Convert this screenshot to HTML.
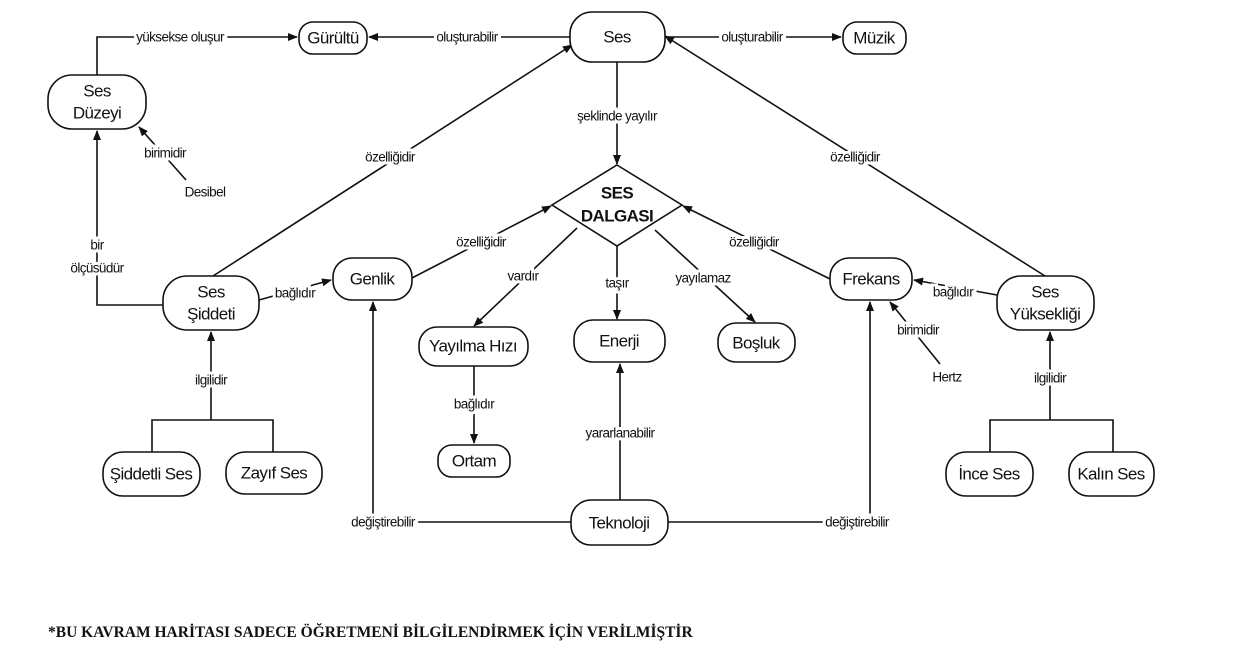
<!DOCTYPE html>
<html><head><meta charset="utf-8"><style>
html,body{margin:0;padding:0;background:#fff;width:1248px;height:655px;overflow:hidden}
svg{display:block}
.n{fill:#fff;stroke:#111;stroke-width:1.6}
.l{stroke:#111;stroke-width:1.6;fill:none}
.t{font-family:"Liberation Sans",sans-serif;font-size:17px;fill:#111;text-anchor:middle;dominant-baseline:central;letter-spacing:-0.6px}
.s{font-family:"Liberation Sans",sans-serif;font-size:13.5px;fill:#111;text-anchor:middle;dominant-baseline:central;letter-spacing:-0.6px;stroke:#fff;stroke-width:6px;paint-order:stroke}
</style></head><body>
<svg width="1248" height="655" viewBox="0 0 1248 655" xmlns="http://www.w3.org/2000/svg">
<defs><marker id="a" markerWidth="10" markerHeight="10" refX="9" refY="5" orient="auto" markerUnits="userSpaceOnUse"><path d="M0,1 L10,5 L0,9 z" fill="#111"/></marker></defs>
<polyline class="l" points="97,75 97,37 297,37" marker-end="url(#a)"/>
<line class="l" x1="570" y1="37" x2="369" y2="37" marker-end="url(#a)"/>
<line class="l" x1="665" y1="37" x2="841" y2="37" marker-end="url(#a)"/>
<line class="l" x1="617" y1="62" x2="617" y2="164" marker-end="url(#a)"/>
<line class="l" x1="213" y1="276" x2="572" y2="45" marker-end="url(#a)"/>
<line class="l" x1="1045" y1="276" x2="665" y2="36" marker-end="url(#a)"/>
<polyline class="l" points="163,305 97,305 97,131" marker-end="url(#a)"/>
<line class="l" x1="259" y1="300" x2="331" y2="280" marker-end="url(#a)"/>
<line class="l" x1="412" y1="278" x2="551" y2="206" marker-end="url(#a)"/>
<line class="l" x1="577" y1="228" x2="474" y2="326" marker-end="url(#a)"/>
<line class="l" x1="617" y1="246" x2="617" y2="319" marker-end="url(#a)"/>
<line class="l" x1="655" y1="230" x2="755" y2="322" marker-end="url(#a)"/>
<line class="l" x1="830" y1="279" x2="683" y2="206" marker-end="url(#a)"/>
<line class="l" x1="997" y1="295" x2="914" y2="280" marker-end="url(#a)"/>
<line class="l" x1="940" y1="364" x2="890" y2="302" marker-end="url(#a)"/>
<line class="l" x1="186" y1="180" x2="139" y2="127" marker-end="url(#a)"/>
<line class="l" x1="474" y1="366" x2="474" y2="443" marker-end="url(#a)"/>
<line class="l" x1="620" y1="500" x2="620" y2="364" marker-end="url(#a)"/>
<polyline class="l" points="571,522 373,522 373,302" marker-end="url(#a)"/>
<polyline class="l" points="668,522 870,522 870,302" marker-end="url(#a)"/>
<line class="l" x1="211" y1="420" x2="211" y2="332" marker-end="url(#a)"/>
<polyline class="l" points="152,452 152,420 273,420 273,452"/>
<line class="l" x1="1050" y1="420" x2="1050" y2="332" marker-end="url(#a)"/>
<polyline class="l" points="990,452 990,420 1113,420 1113,452"/>
<rect class="n" x="570" y="12" width="95" height="50" rx="22"/><text class="t" x="617" y="37">Ses</text>
<rect class="n" x="299" y="22" width="68" height="32" rx="14"/><text class="t" x="333" y="38">Gürültü</text>
<rect class="n" x="843" y="22" width="63" height="32" rx="14"/><text class="t" x="874" y="38">Müzik</text>
<rect class="n" x="48" y="75" width="98" height="54" rx="24"/><text class="t" x="97" y="91">Ses</text><text class="t" x="97" y="113">Düzeyi</text>
<rect class="n" x="163" y="276" width="96" height="54" rx="24"/><text class="t" x="211" y="292">Ses</text><text class="t" x="211" y="314">Şiddeti</text>
<rect class="n" x="333" y="258" width="79" height="42" rx="19"/><text class="t" x="372" y="279">Genlik</text>
<polygon class="n" points="617,165 682,205 617,246 552,205"/>
<text class="t" x="617" y="193" style="font-weight:bold">SES</text><text class="t" x="617" y="216" style="font-weight:bold">DALGASI</text>
<rect class="n" x="419" y="327" width="109" height="39" rx="18"/><text class="t" x="473" y="346">Yayılma Hızı</text>
<rect class="n" x="574" y="320" width="91" height="42" rx="19"/><text class="t" x="619" y="341">Enerji</text>
<rect class="n" x="718" y="323" width="77" height="39" rx="18"/><text class="t" x="756" y="343">Boşluk</text>
<rect class="n" x="830" y="258" width="82" height="42" rx="19"/><text class="t" x="871" y="279">Frekans</text>
<rect class="n" x="997" y="276" width="97" height="54" rx="24"/><text class="t" x="1045" y="292">Ses</text><text class="t" x="1045" y="314">Yüksekliği</text>
<rect class="n" x="438" y="445" width="72" height="32" rx="14"/><text class="t" x="474" y="461">Ortam</text>
<rect class="n" x="571" y="500" width="97" height="45" rx="20"/><text class="t" x="619" y="523">Teknoloji</text>
<rect class="n" x="103" y="452" width="97" height="44" rx="20"/><text class="t" x="151" y="474">Şiddetli Ses</text>
<rect class="n" x="226" y="452" width="96" height="42" rx="19"/><text class="t" x="274" y="473">Zayıf Ses</text>
<rect class="n" x="946" y="452" width="87" height="44" rx="20"/><text class="t" x="989" y="474">İnce Ses</text>
<rect class="n" x="1069" y="452" width="85" height="44" rx="20"/><text class="t" x="1111" y="474">Kalın Ses</text>
<text class="s" x="180" y="37">yüksekse oluşur</text>
<text class="s" x="467" y="37">oluşturabilir</text>
<text class="s" x="752" y="37">oluşturabilir</text>
<text class="s" x="617" y="116">şeklinde yayılır</text>
<text class="s" x="390" y="157">özelliğidir</text>
<text class="s" x="855" y="157">özelliğidir</text>
<text class="s" x="165" y="153">birimidir</text>
<text class="s" x="205" y="192">Desibel</text>
<text class="s" x="97" y="245">bir</text>
<text class="s" x="97" y="268">ölçüsüdür</text>
<text class="s" x="295" y="293">bağlıdır</text>
<text class="s" x="481" y="242">özelliğidir</text>
<text class="s" x="523" y="276">vardır</text>
<text class="s" x="617" y="283">taşır</text>
<text class="s" x="703" y="278">yayılamaz</text>
<text class="s" x="754" y="242">özelliğidir</text>
<text class="s" x="953" y="292">bağlıdır</text>
<text class="s" x="918" y="330">birimidir</text>
<text class="s" x="947" y="377">Hertz</text>
<text class="s" x="474" y="404">bağlıdır</text>
<text class="s" x="620" y="433">yararlanabilir</text>
<text class="s" x="383" y="522">değiştirebilir</text>
<text class="s" x="857" y="522">değiştirebilir</text>
<text class="s" x="211" y="380">ilgilidir</text>
<text class="s" x="1050" y="378">ilgilidir</text>
<text x="48" y="637" style="font-family:'Liberation Serif',serif;font-size:15.5px;font-weight:bold;fill:#111;letter-spacing:0px">*BU KAVRAM HARİTASI SADECE ÖĞRETMENİ BİLGİLENDİRMEK İÇİN VERİLMİŞTİR</text>
</svg>
</body></html>
